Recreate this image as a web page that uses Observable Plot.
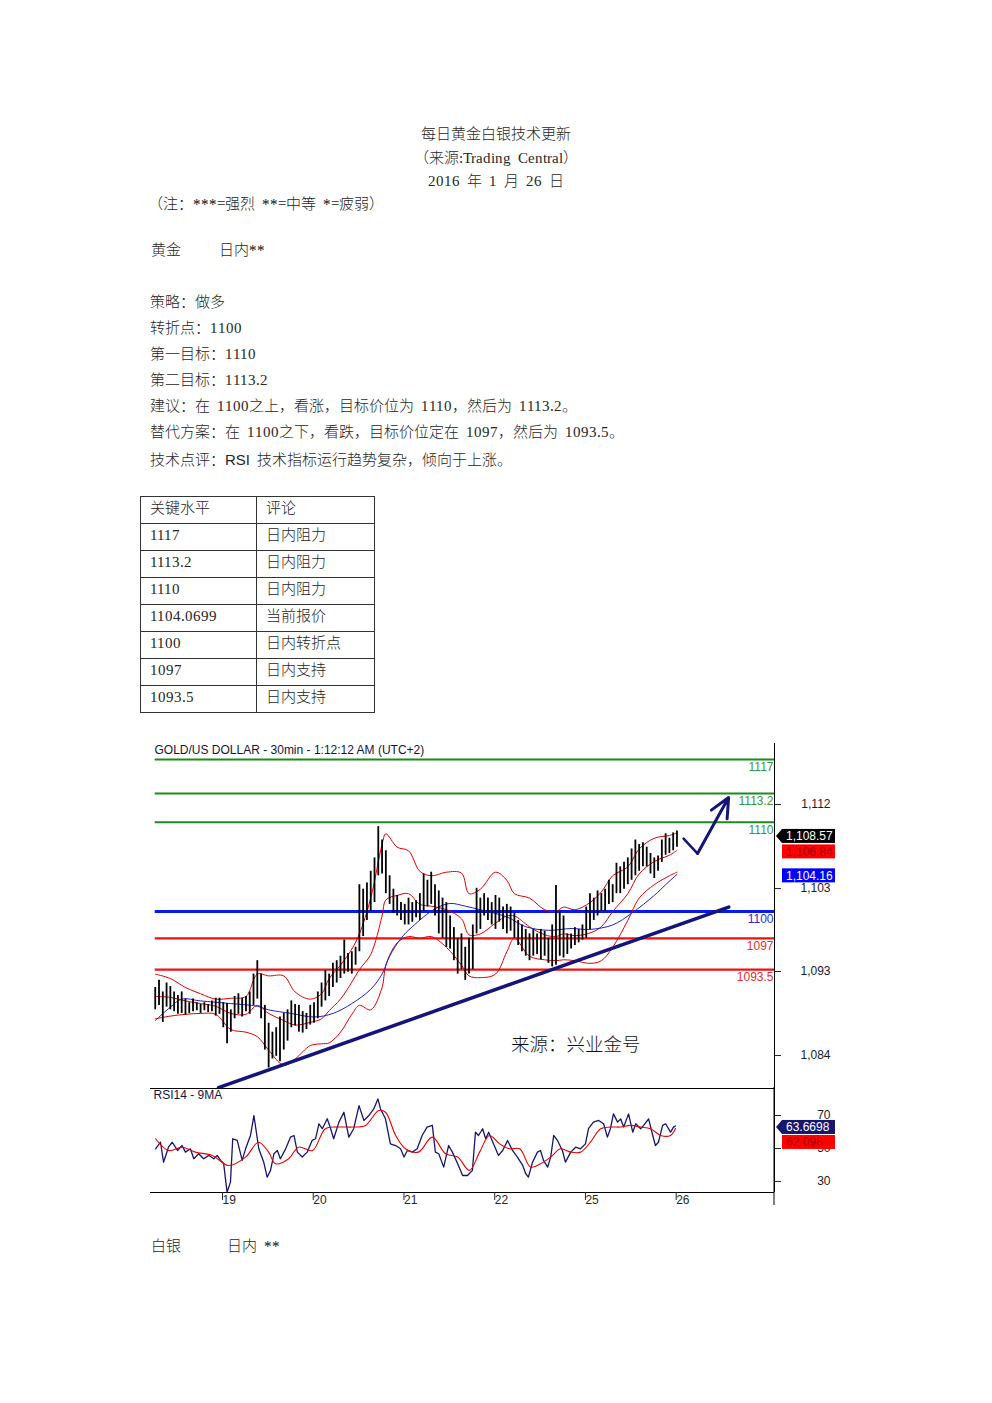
<!DOCTYPE html>
<html lang="zh-CN">
<head>
<meta charset="utf-8">
<script src="https://cdn.jsdelivr.net/npm/d3@7"></script>
<script src="https://cdn.jsdelivr.net/npm/@observablehq/plot@0.6"></script>
<style>
@font-face { font-family: "SerifLatin"; src: local("Liberation Serif"), local("LiberationSerif"); unicode-range: U+0021-007E; }
@font-face { font-family: "HalfSpace"; src: local("Liberation Mono"), local("LiberationMono"); size-adjust: 70%; unicode-range: U+0020; }
html, body { margin:0; padding:0; background:#fff; }
#page { position:relative; width:992px; height:1403px; overflow:hidden; font-family:"SerifLatin","HalfSpace","Noto Sans CJK SC",sans-serif; font-size:15px; font-weight:300; color:#262626; }
.t { position:absolute; white-space:pre; line-height:20px; }
.c { left:0; width:992px; text-align:center; }
.sans { font-family:"Liberation Sans",Arial,sans-serif; font-weight:400; }
table.lv { position:absolute; left:140px; top:496px; border-collapse:collapse; border:1.5px solid #222; }
table.lv td { border:1px solid #333; padding:0 0 0 9px; height:26px; line-height:20px; white-space:pre; }
table.lv td:first-child { width:106px; }
table.lv td:last-child { width:108px; }
.chart { position:absolute; }
.wm { position:absolute; left:511px; top:1031px; font-family:"Noto Sans CJK SC",sans-serif; font-size:18.5px; line-height:24px; color:#111; white-space:pre; }
</style>
</head>
<body>
<div id="page">
  <div class="t c" style="top:126px">每日黄金白银技术更新</div>
  <div class="t c" style="top:150px">（来源:Trading Central）</div>
  <div class="t c" style="top:173px">2016 年 1 月 26 日</div>
  <div class="t" style="left:148px;top:196px">（注：***=强烈 **=中等 *=疲弱）</div>
  <div class="t" style="left:151px;top:242px">黄金</div>
  <div class="t" style="left:219px;top:242px">日内**</div>
  <div class="t" style="left:150px;top:294px">策略：做多</div>
  <div class="t" style="left:150px;top:320px">转折点：1100</div>
  <div class="t" style="left:150px;top:346px">第一目标：1110</div>
  <div class="t" style="left:150px;top:372px">第二目标：1113.2</div>
  <div class="t" style="left:150px;top:398px">建议：在 1100之上，看涨，目标价位为 1110，然后为 1113.2。</div>
  <div class="t" style="left:150px;top:424px">替代方案：在 1100之下，看跌，目标价位定在 1097，然后为 1093.5。</div>
  <div class="t" style="left:150px;top:450px">技术点评：<span class="sans">RSI</span> 技术指标运行趋势复杂，倾向于上涨。</div>
  <table class="lv" id="lvtable"></table>
  <div class="chart" id="priceChart" style="left:150px;top:743px"></div>
  <div class="chart" id="rsiChart" style="left:150px;top:1087px"></div>
  <div class="wm">来源：兴业金号</div>
  <div class="t" style="left:151px;top:1238px">白银</div>
  <div class="t" style="left:227px;top:1238px">日内 **</div>
</div>
<script>
// ---------- Data ----------
const keyLevels   = ["1117", "1113.2", "1110", "1104.0699", "1100", "1097", "1093.5"];
const keyComments = ["日内阻力", "日内阻力", "日内阻力", "当前报价", "日内转折点", "日内支持", "日内支持"];
const tableHeader = ["关键水平", "评论"];

const chartTitle = "GOLD/US DOLLAR - 30min - 1:12:12 AM (UTC+2)";
const rsiTitle = "RSI14 - 9MA";

// trading hours relative to the "19" day tick (hourly samples of the 30-min chart)
const firstBarHour = -17;
const barHigh = [
  1091.5,1092.3,1091.0,1092.0,1091.6,1091.0,1090.6,1091.0,1090.2,1089.8,1090.2,1089.8,1089.6,1089.8,1089.6,1090.0,1090.3,
  1090.3,1089.8,1089.7,1089.0,1090.5,1090.8,1090.3,1090.5,1091.0,1093.0,1094.5,1093.0,1089.5,1087.5,1086.5,1087.0,1088.2,1088.6,1089.0,1090.0,1089.6,1089.5,1088.8,1088.6,
  1089.5,1089.8,1091.0,1092.0,1093.4,1093.0,1094.2,1094.5,1095.0,1096.8,1095.3,1095.5,1096.0,1103.0,1102.5,1103.2,1104.5,1106.0,1109.5,1108.0,1106.8,1104.0,1102.5,1101.8,
  1101.0,1100.8,1101.5,1101.0,1101.2,1102.0,1104.2,1103.5,1104.4,1103.0,1102.3,1101.5,1101.0,1099.5,1098.2,1097.0,1097.5,1096.0,1097.0,1098.5,1102.6,1101.5,1102.0,1101.5,
  1101.0,1101.8,1101.5,1100.5,1100.8,1100.5,1099.8,1099.0,1098.5,1098.0,1097.5,1098.0,1097.5,1098.0,1097.8,1097.0,1098.5,1102.9,1100.0,1099.5,1097.5,1097.5,1098.2,1098.0,
  1098.5,1100.5,1102.0,1101.5,1102.3,1102.0,1102.5,1103.5,1103.0,1105.4,1105.0,1105.5,1106.0,1107.0,1108.0,1107.5,1107.7,1107.2,1106.5,1106.0,1106.2,1108.0,1108.7,1108.2,
  1108.8,1109.0
];
const barLow = [
  1089.0,1089.5,1087.6,1089.3,1089.0,1088.8,1088.5,1088.6,1088.4,1088.6,1088.8,1088.9,1088.6,1088.9,1088.7,1088.8,1088.3,
  1088.5,1087.0,1085.2,1086.5,1088.0,1088.5,1088.2,1088.8,1088.5,1089.5,1090.2,1088.0,1084.5,1082.5,1083.5,1083.8,1083.2,1084.5,1085.5,1087.0,1087.2,1086.5,1086.4,1086.8,
  1087.3,1087.5,1088.0,1089.3,1090.0,1090.5,1091.5,1092.0,1092.5,1093.0,1093.2,1093.0,1094.0,1095.5,1097.2,1099.0,1100.0,1101.0,1104.0,1104.2,1102.0,1100.8,1099.8,1099.5,
  1099.0,1098.5,1098.5,1098.8,1099.3,1099.0,1100.0,1100.5,1100.8,1099.5,1097.5,1097.0,1096.0,1095.8,1094.5,1093.0,1093.5,1092.3,1093.0,1093.5,1097.5,1098.0,1099.5,1099.0,
  1098.5,1098.0,1098.8,1098.0,1097.5,1097.8,1097.0,1096.2,1095.5,1095.0,1094.5,1095.0,1095.2,1094.6,1095.0,1094.2,1093.8,1094.0,1095.0,1094.8,1095.2,1095.8,1096.2,1096.5,
  1096.8,1097.0,1098.0,1099.0,1099.5,1100.0,1100.0,1100.8,1101.0,1102.0,1102.0,1102.5,1103.0,1103.5,1104.0,1104.5,1105.0,1105.0,1104.2,1103.7,1104.5,1105.5,1106.3,1106.5,
  1106.8,1107.2
];

// Bollinger bands (red)
const bbHour   = [-17,-13,-9,-5,-1,3,7,10,13,17,20,24,27,29,32,35,37,40,43,44,47,50,53,56,60,64,66,69,73,76,78,82,86,89,91,94,98,101,104,108,111,115,119,121];
const bbUpper  = [1093.0,1092.5,1091.5,1090.8,1090.2,1090.3,1090.5,1093.0,1092.8,1092.8,1091.0,1090.2,1090.8,1092.5,1094.0,1095.8,1097.5,1101.5,1107.5,1108.7,1107.2,1106.8,1104.5,1104.0,1104.4,1104.3,1102.0,1102.5,1104.4,1103.5,1102.0,1101.5,1100.2,1100.0,1100.5,1100.2,1101.0,1102.2,1104.0,1105.0,1107.0,1108.2,1108.5,1108.8];
const bbMiddle = [1090.5,1090.4,1090.0,1089.7,1089.4,1088.6,1088.5,1089.5,1088.6,1087.8,1087.3,1087.6,1088.0,1088.9,1090.2,1092.1,1093.5,1095.2,1099.5,1101.3,1101.8,1102.0,1100.8,1100.6,1100.2,1099.2,1097.4,1097.5,1098.7,1099.5,1099.5,1098.3,1097.4,1097.2,1097.5,1097.3,1097.6,1098.3,1100.0,1102.0,1104.2,1105.6,1106.3,1106.84];
const bbLower  = [1088.0,1088.3,1088.5,1088.6,1088.5,1086.8,1086.5,1086.0,1084.5,1082.8,1083.5,1085.0,1085.2,1085.3,1086.5,1088.5,1089.5,1089.0,1091.5,1094.0,1096.5,1097.2,1097.0,1097.2,1096.0,1094.0,1092.8,1092.6,1093.0,1095.5,1097.0,1095.0,1094.6,1094.5,1094.6,1094.5,1094.2,1094.5,1096.0,1099.0,1101.5,1103.0,1104.0,1104.4];

// blue moving average
const maHour  = [-17,-13,-10,-5,3,10,13,19,25,30,35,40,43,45,48,51,57,61,65,69,76,81,87,93,98,104,109,115,118,121];
const maValue = [1087.8,1089.3,1090.2,1090.0,1089.7,1089.4,1089.0,1088.6,1088.2,1088.6,1089.7,1091.3,1093.0,1095.0,1097.0,1098.3,1100.3,1100.9,1100.6,1100.2,1099.4,1098.3,1097.9,1098.1,1098.0,1098.5,1099.8,1101.8,1103.0,1104.16];

// hand-drawn trend line and forecast arrow
const trendHour  = [-0.26, 134.7];
const trendValue = [1080.3, 1100.5];
const arrowHour  = [122.75, 126.45, 134.66];
const arrowValue = [1108.16, 1106.49, 1112.75];

// latest readings shown in the right-hand boxes
const lastPrice = 1108.57, lastMid = 1106.84, lastMa = 1104.16;
const lastRsi = 63.6698, lastRsiMa = 62.098;

// RSI (14) and its 9-period MA
const rsiHour = [-16.9,-15.6,-14.8,-13.5,-12.5,-11.1,-9.9,-9.0,-7.7,-6.8,-5.5,-4.2,-2.8,-1.5,-0.6,0.3,1.1,2.0,2.9,3.5,4.7,6.0,6.9,8.2,9.1,10.4,11.7,12.6,13.5,14.4,15.3,16.1,17.5,18.8,19.7,20.6,21.9,23.2,24.5,25.4,26.3,27.2,28.5,29.4,30.2,31.6,32.9,34.2,35.5,36.9,38.2,39.5,40.8,41.9,42.6,43.9,45.2,46.6,47.9,48.8,49.7,51.0,52.3,53.6,54.9,56.3,57.1,58.0,59.3,60.6,61.6,63.0,64.3,65.6,66.9,67.7,68.5,69.6,70.4,71.2,72.5,73.8,74.9,76.2,77.5,78.8,80.2,81.0,81.7,82.8,84.1,84.9,85.7,86.8,87.6,88.4,89.4,90.7,91.5,92.9,94.2,95.5,96.8,97.6,98.9,100.3,101.6,102.6,103.4,104.2,105.3,106.1,106.9,108.2,109.3,110.1,111.4,112.2,113.5,114.6,115.3,116.1,117.2,118.0,119.3,120.1,120.6];
const rsiValue = [49.8,53.8,41.7,50.8,53.8,48.8,51.8,47.8,49.8,43.8,46.8,43.8,45.8,43.8,45.8,42.8,40.9,23.5,29.6,55.9,54.9,42.8,49.8,57.9,70,49.8,41.7,32.6,36.7,46.8,48.8,43.8,49.8,56.9,57.9,47.8,44.8,47.8,54.9,55.9,65,62,68,62,55.9,66,72,56.9,62,76,67,70,74,80.1,74,68,52.8,51.8,49.8,44.8,48.8,47.8,49.8,57.9,63,64,47.8,46.8,38.7,51.8,47.8,40.7,33.6,33.6,36.7,59.9,57.9,62,55.9,59.9,52.8,45.8,48.8,54.9,48.8,44.8,39.7,34.7,32.6,41.7,47.8,48.8,42.8,38.7,44.8,57.9,54.9,48.8,41.7,47.8,50.8,49.8,52.8,62,66,67,65,56.9,62,71,66,68,63,71,59.9,65,62,64,68,57.9,51.8,53.8,64,65,59.9,63,63.67];
const rsiMaHour  = [-16.9,-13.5,-9.8,-6.4,-1.9,2.4,6.9,10.3,13.0,14.8,18.3,20.9,24.6,28.0,31.5,35.2,38.6,42.1,43.9,46.6,49.2,52.6,56.3,59.8,63.0,66.1,68.8,71.4,74.1,76.7,79.4,82.3,84.9,87.6,90.2,92.9,95.5,98.1,100.8,103.4,106.1,108.7,111.4,114.0,116.7,119.3,120.6];
const rsiMaValue = [55.9,48.8,50.8,47.8,45.8,39.7,44.8,53.8,47.8,40.7,43.8,50.8,48.8,62,63,63,64,73,72,57.9,49.8,47.8,56.9,46.8,44.8,36.7,47.8,57.9,52.8,49.8,49.8,38.7,40.7,44.8,49.8,47.8,47.8,53.8,62,63,63,64,63,62,57.9,57.9,62.1];

// axes
const dayTicks  = [0, 24, 48, 72, 96, 120];
const dayLabels = ["19", "20", "21", "22", "25", "26"];
const priceTicks = [1111.97, 1102.57, 1093.29, 1083.89];
const rsiTicks = [70, 50, 30];

// ---------- Table ----------
const table = d3.select("#lvtable");
table.append("tr").selectAll("td").data(tableHeader).join("td").text(d => d);
keyLevels.forEach((lv, i) => {
  const tr = table.append("tr");
  tr.append("td").text(lv);
  tr.append("td").text(keyComments[i]);
});
table.selectAll("tr").style("height", "27px");

// ---------- Chart ----------
const FONT = "Liberation Sans, Arial, sans-serif";
const xDomain = [-18.25, 146.8];
const priceDomain = [1080.2, 1118.8];
const rsiDomain = [23.3, 86.4];
const NAVY = "#14147a";

const bars = barHigh.map((h, i) => ({t: firstBarHour + i, high: h, low: barLow[i]}));
const bb = bbHour.map((t, i) => ({t, upper: bbUpper[i], middle: bbMiddle[i], lower: bbLower[i]}));
const ma = maHour.map((t, i) => ({t, v: maValue[i]}));
const trend = trendHour.map((t, i) => ({t, v: trendValue[i]}));
const arrowPts = arrowHour.map((t, i) => ({t, v: arrowValue[i]}));
const rsiPts = rsiHour.map((t, i) => ({t, v: rsiValue[i]}));
const rsiMaPts = rsiMaHour.map((t, i) => ({t, v: rsiMaValue[i]}));

const levelStyle = {
  "日内阻力":   {line: "#1b8c1b", text: "#3a963a", width: 2},
  "日内转折点": {line: "#0818f0", text: "#2a2ad0", width: 3},
  "日内支持":   {line: "#f01010", text: "#e83030", width: 2.4}
};
const levels = keyLevels.map((s, i) => ({v: +s, label: s, kind: keyComments[i]}))
  .filter(d => levelStyle[d.kind]);

const levelMarks = levels.flatMap(l => [
  Plot.ruleY([l], {y: "v", x1: () => bars[0].t, x2: () => xDomain[1], stroke: levelStyle[l.kind].line, strokeWidth: levelStyle[l.kind].width}),
  Plot.text([l], {y: "v", x: () => xDomain[1], text: "label", textAnchor: "end", dx: -1, dy: 8, fill: levelStyle[l.kind].text, fontSize: 12})
]);

const price = Plot.plot({
  width: 685, height: 345,
  marginLeft: 0, marginRight: 61, marginTop: 0, marginBottom: 0,
  x: {domain: xDomain, axis: null},
  y: {domain: priceDomain, axis: null},
  style: {fontFamily: FONT, background: "transparent", overflow: "hidden"},
  marks: [
    ...levelMarks,
    Plot.line(bb, {x: "t", y: "upper", stroke: "#e60000", strokeWidth: 1, curve: "catmull-rom"}),
    Plot.line(bb, {x: "t", y: "lower", stroke: "#e60000", strokeWidth: 1, curve: "catmull-rom"}),
    Plot.line(bb, {x: "t", y: "middle", stroke: "#e60000", strokeWidth: 1, curve: "catmull-rom"}),
    Plot.line(ma, {x: "t", y: "v", stroke: "#2020d0", strokeWidth: 1, curve: "catmull-rom"}),
    Plot.ruleX(bars, {x: "t", y1: "low", y2: "high", stroke: "#000", strokeWidth: 1.8}),
    Plot.line(trend, {x: "t", y: "v", stroke: NAVY, strokeWidth: 3.5}),
    Plot.line(arrowPts.slice(0, 2), {x: "t", y: "v", stroke: NAVY, strokeWidth: 2.5}),
    Plot.arrow([arrowPts], {x1: d => d[1].t, y1: d => d[1].v, x2: d => d[2].t, y2: d => d[2].v, stroke: NAVY, strokeWidth: 3, headLength: 16, headAngle: 50}),
    Plot.text([chartTitle], {frameAnchor: "top-left", dx: 4, dy: 2, fontSize: 12, fill: "#14143c"}),
    Plot.axisY({anchor: "right", label: null, ticks: priceTicks, tickFormat: d3.format(",.0f"), tickSize: 6, tickPadding: 50, textAnchor: "end", fontSize: 12, fill: "#1a1a2a"}),
    Plot.ruleX([xDomain[1]], {stroke: "#000", strokeWidth: 1})
  ]
});
document.getElementById("priceChart").append(price);

const RSI_H = 126, RSI_BORDER_BOTTOM = 118;
const rsi = Plot.plot({
  width: 685, height: RSI_H,
  marginLeft: 0, marginRight: 61, marginTop: 1, marginBottom: RSI_H - 105,
  x: {domain: xDomain},
  y: {domain: rsiDomain, axis: null},
  style: {fontFamily: FONT, background: "transparent", overflow: "hidden"},
  marks: [
    Plot.ruleY([rsiDomain[1]], {stroke: "#000", strokeWidth: 1}),
    Plot.ruleY([rsiDomain[0]], {stroke: "#000", strokeWidth: 1}),
    Plot.line(rsiPts, {x: "t", y: "v", stroke: "#16166e", strokeWidth: 1.3}),
    Plot.line(rsiMaPts, {x: "t", y: "v", stroke: "#e60000", strokeWidth: 1.1, curve: "catmull-rom"}),
    Plot.text([rsiTitle], {frameAnchor: "top-left", dx: 3, dy: 2, fontSize: 12, fill: "#14143c"}),
    Plot.axisY({anchor: "right", label: null, ticks: rsiTicks, tickSize: 6, tickPadding: 50, textAnchor: "end", fontSize: 12, fill: "#1a1a2a"}),
    Plot.axisX({anchor: "bottom", label: null, ticks: dayTicks, tickFormat: d => dayLabels[dayTicks.indexOf(d)], tickSize: 8, tickPadding: -5, textAnchor: "start", dx: 3, fontSize: 12, fill: "#1e2a2a"}),
    Plot.ruleX([xDomain[1]], {stroke: "#000", strokeWidth: 1})
  ]
});
document.getElementById("rsiChart").append(rsi);

// extend right border line below the RSI frame
{
  const xr = rsi.scale("x").apply(xDomain[1]);
  d3.select(rsi).append("line").attr("x1", xr).attr("x2", xr).attr("y1", 0).attr("y2", RSI_BORDER_BOTTOM)
    .attr("stroke", "#000").attr("stroke-width", 1);
}

// value boxes on the right
function addBadges(plot, items, shift) {
  const ys = plot.scale("y"), xs = plot.scale("x");
  const xr = xs.apply(xDomain[1]);
  const h = 14;
  let prevBottom = -Infinity;
  const g = d3.select(plot).append("g")
    .attr("font-family", FONT).attr("font-size", 12).attr("text-anchor", "start");
  items.forEach(it => {
    let yc = ys.apply(it.value) + shift;
    if (yc - h / 2 < prevBottom + 1) yc = prevBottom + 1 + h / 2;
    prevBottom = yc + h / 2;
    const x0 = xr + 8;
    if (it.notch) {
      g.append("path").attr("d", `M${xr + 2},${yc} L${x0},${yc - h / 2} L${x0},${yc + h / 2} Z`).attr("fill", it.fill);
    }
    g.append("rect").attr("x", x0).attr("y", yc - h / 2).attr("width", 60).attr("height", h).attr("fill", it.fill);
    g.append("text").attr("x", x0 + 4).attr("y", yc).attr("dy", "0.36em")
      .attr("text-anchor", "start").attr("fill", it.textFill).text(it.text);
  });
}
addBadges(price, [
  {value: lastPrice, text: d3.format(",.2f")(lastPrice), fill: "#000", textFill: "#fff", notch: true},
  {value: lastMid, text: d3.format(",.2f")(lastMid), fill: "#ff0000", textFill: "#a80000"},
  {value: lastMa, text: d3.format(",.2f")(lastMa), fill: "#0000ff", textFill: "#fff"}
], 1.5);
addBadges(rsi, [
  {value: lastRsi, text: String(lastRsi), fill: "#16166e", textFill: "#fff", notch: true},
  {value: lastRsiMa, text: String(lastRsiMa), fill: "#ff0000", textFill: "#a80000"}
], 1.5);
</script>
</body>
</html>
